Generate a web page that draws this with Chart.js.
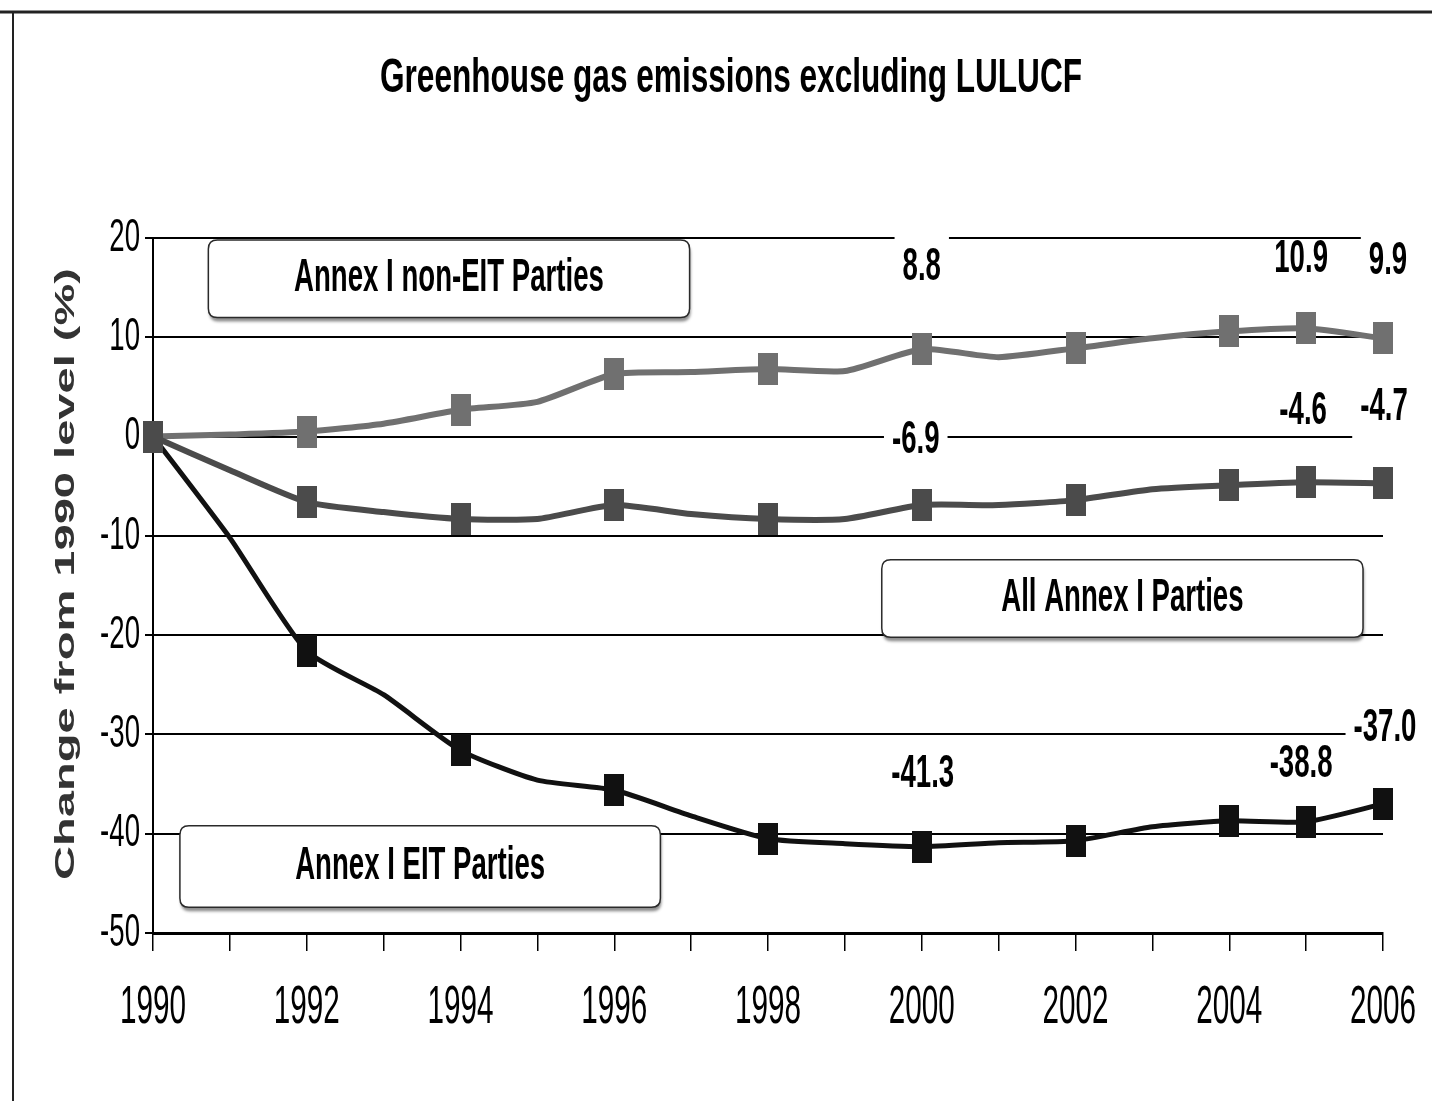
<!DOCTYPE html>
<html>
<head>
<meta charset="utf-8">
<title>Greenhouse gas emissions excluding LULUCF</title>
<script src="https://cdn.jsdelivr.net/npm/chart.js@4.4.1/dist/chart.umd.min.js"></script>
<style>
  html, body { margin: 0; padding: 0; background: #fff; }
  #wrap { position: relative; width: 1432px; height: 1101px; }
</style>
</head>
<body>
<div id="wrap"><canvas id="ghg-chart" width="1432" height="1101"></canvas></div>
<script>
// Data (change from 1990 level, %)
const years = ['1990', '1991', '1992', '1993', '1994', '1995', '1996', '1997', '1998',
               '1999', '2000', '2001', '2002', '2003', '2004', '2005', '2006'];
const markerYears = ['1990', '1992', '1994', '1996', '1998', '2000', '2002', '2004', '2005', '2006'];
const labelYears = ['2000', '2005', '2006'];
const yTicks = [20, 10, 0, -10, -20, -30, -40, -50];

const nonEitValues = [0, 0.2, 0.5, 1.3, 2.7, 3.5, 6.3, 6.5, 6.8, 6.6, 8.8, 8.0, 8.9, 9.9, 10.6, 10.9, 9.9];
const allAnnexValues = [0, -3.4, -6.6, -7.6, -8.3, -8.3, -6.9, -7.8, -8.3, -8.3, -6.9, -6.9, -6.4, -5.3, -4.9, -4.6, -4.7];
const eitValues = [0, -10.2, -21.6, -26.0, -31.6, -34.6, -35.6, -38.2, -40.5, -41.0, -41.3, -40.9, -40.7, -39.3, -38.7, -38.8, -37.0];

const seriesNames = ['All Annex I Parties', 'Annex I non-EIT Parties', 'Annex I EIT Parties'];

const COLORS = {
    nonEit: '#707070',
    allAnnex: '#4b4b4b',
    eit: '#111111',
};

const FONT = '"Liberation Sans", Arial, sans-serif';

// ------------------------------------------------------------
// helpers
// ------------------------------------------------------------

function makeMarker(color) {
    const c = document.createElement('canvas');
    c.width = 20;
    c.height = 32;
    const g = c.getContext('2d');
    g.fillStyle = color;
    g.fillRect(0, 0, 20, 32);
    return c;
}

// text squeezed horizontally (the source uses a narrow, stretched face)
function drawText(ctx, text, x, y, size, weight, sx, align, color) {
    ctx.save();
    ctx.font = `${weight} ${size}px ${FONT}`;
    ctx.fillStyle = color || '#000';
    ctx.textAlign = align || 'center';
    ctx.textBaseline = 'middle';
    ctx.translate(x, y);
    ctx.scale(sx, 1);
    ctx.fillText(text, 0, 0);
    ctx.restore();
}

function textWidth(ctx, text, size, weight, sx) {
    ctx.save();
    ctx.font = `${weight} ${size}px ${FONT}`;
    const w = ctx.measureText(text).width * sx;
    ctx.restore();
    return w;
}

function roundRect(ctx, x, y, w, h, r) {
    ctx.beginPath();
    ctx.moveTo(x + r, y);
    ctx.lineTo(x + w - r, y);
    ctx.quadraticCurveTo(x + w, y, x + w, y + r);
    ctx.lineTo(x + w, y + h - r);
    ctx.quadraticCurveTo(x + w, y + h, x + w - r, y + h);
    ctx.lineTo(x + r, y + h);
    ctx.quadraticCurveTo(x, y + h, x, y + h - r);
    ctx.lineTo(x, y + r);
    ctx.quadraticCurveTo(x, y, x + r, y);
    ctx.closePath();
}

// ------------------------------------------------------------
// annotation layout (in scale units: x = year index, y = %)
// ------------------------------------------------------------

const seriesBoxes = [
    { text: seriesNames[1], x0: 0.72, x1: 6.98, y0: 19.8, y1: 12.0 },
    { text: seriesNames[0], x0: 9.48, x1: 15.74, y0: -12.4, y1: -20.2 },
    { text: seriesNames[2], x0: 0.35, x1: 6.6, y0: -39.2, y1: -47.4 },
];

// value label offsets from their point, in px
const labelStyles = {
    nonEit: [{ dx: 0, dy: -82, bg: true }, { dx: -5, dy: -69, bg: false }, { dx: 5, dy: -77, bg: true }],
    allAnnex: [{ dx: -6, dy: -65, bg: true }, { dx: -3, dy: -71, bg: false }, { dx: 1, dy: -76, bg: true }],
    eit: [{ dx: 1, dy: -72, bg: true }, { dx: -5, dy: -57, bg: false }, { dx: 2, dy: -76, bg: true }],
};

const decorPlugin = {
    id: 'decor',
    beforeDatasetsDraw(chart) {
        const { ctx, scales: { x, y } } = chart;

        // series name boxes
        seriesBoxes.forEach(b => {
            const left = x.getPixelForValue(b.x0);
            const right = x.getPixelForValue(b.x1);
            const top = y.getPixelForValue(b.y0);
            const bottom = y.getPixelForValue(b.y1);
            ctx.save();
            ctx.shadowColor = 'rgba(0,0,0,0.45)';
            ctx.shadowBlur = 3;
            ctx.shadowOffsetX = 1;
            ctx.shadowOffsetY = 4;
            roundRect(ctx, left, top, right - left, bottom - top, 9);
            ctx.fillStyle = '#fff';
            ctx.fill();
            ctx.restore();
            ctx.save();
            roundRect(ctx, left, top, right - left, bottom - top, 9);
            ctx.strokeStyle = '#2a2a2a';
            ctx.lineWidth = 1.5;
            ctx.stroke();
            ctx.restore();
            drawText(ctx, b.text, (left + right) / 2, (top + bottom) / 2, 46, 'bold', 0.6, 'center', '#000');
        });

        // value labels
        const groups = [
            { values: nonEitValues, styles: labelStyles.nonEit },
            { values: allAnnexValues, styles: labelStyles.allAnnex },
            { values: eitValues, styles: labelStyles.eit },
        ];
        groups.forEach(g => {
            labelYears.forEach((yr, k) => {
                const idx = years.indexOf(yr);
                const v = g.values[idx];
                const st = g.styles[k];
                const text = v.toFixed(1);
                const cx = x.getPixelForValue(idx) + st.dx;
                const cy = y.getPixelForValue(v) + st.dy;
                const w = textWidth(ctx, text, 46, 'bold', 0.6);
                if (st.bg) {
                    ctx.save();
                    ctx.fillStyle = '#fff';
                    ctx.fillRect(cx - w / 2 - 8, cy - 32, w + 16, 64);
                    ctx.restore();
                }
                drawText(ctx, text, cx, cy, 46, 'bold', 0.6, 'center', '#000');
            });
        });
    },
    afterDraw(chart) {
        const { ctx, scales: { x, y } } = chart;

        // outer frame (top and left edges)
        ctx.save();
        ctx.strokeStyle = '#222';
        ctx.lineWidth = 3;
        ctx.beginPath();
        ctx.moveTo(0, 12);
        ctx.lineTo(1432, 12);
        ctx.stroke();
        ctx.lineWidth = 2;
        ctx.beginPath();
        ctx.moveTo(13, 12);
        ctx.lineTo(13, 1101);
        ctx.stroke();
        ctx.restore();

        // title
        const title = 'Greenhouse gas emissions excluding LULUCF';
        const tw = textWidth(ctx, title, 48, 'bold', 1);
        drawText(ctx, title, 731, 79, 48, 'bold', 702 / tw, 'center', '#000');

        // y tick labels
        y.ticks.forEach(t => {
            drawText(ctx, String(t.value), x.left - 13, y.getPixelForValue(t.value), 46, 'normal', 0.6, 'right', '#000');
        });

        // x tick labels (every other year)
        x.ticks.forEach((t, i) => {
            const label = years[t.value];
            if (Number(label) % 2 !== 0) return;
            drawText(ctx, label, x.getPixelForTick(i), 1008, 54, 'normal', 0.55, 'center', '#000');
        });

        // y axis title
        const yTitle = 'Change from 1990 level (%)';
        const yw = textWidth(ctx, yTitle, 28, 'bold', 1);
        ctx.save();
        ctx.translate(66, 574);
        ctx.rotate(-Math.PI / 2);
        drawText(ctx, yTitle, 0, 0, 28, 'bold', 612 / yw, 'center', '#333');
        ctx.restore();
    },
};

// ------------------------------------------------------------
// chart
// ------------------------------------------------------------

function markerRadius(c) {
    return markerYears.includes(years[c.dataIndex]) ? 10 : 0;
}

function lineDataset(label, data, color, width) {
    return {
        label,
        data,
        borderColor: color,
        backgroundColor: color,
        borderWidth: width,
        tension: 0.2,
        pointStyle: makeMarker(color),
        pointRadius: markerRadius,
        pointHoverRadius: markerRadius,
        clip: false,
        fill: false,
    };
}

new Chart(document.getElementById('ghg-chart'), {
    type: 'line',
    data: {
        labels: years,
        datasets: [
            lineDataset(seriesNames[0], allAnnexValues, COLORS.allAnnex, 6),
            lineDataset(seriesNames[1], nonEitValues, COLORS.nonEit, 6),
            lineDataset(seriesNames[2], eitValues, COLORS.eit, 5),
        ],
    },
    options: {
        responsive: false,
        animation: false,
        devicePixelRatio: 1,
        layout: { padding: { left: 145, right: 49, top: 238, bottom: 150 } },
        plugins: {
            legend: { display: false },
            tooltip: { enabled: false },
            title: { display: false },
        },
        scales: {
            x: {
                type: 'category',
                offset: false,
                grid: {
                    drawOnChartArea: false,
                    drawTicks: true,
                    tickLength: 18,
                    color: '#000',
                    lineWidth: 1.5,
                },
                border: { display: true, color: '#000', width: 3 },
                ticks: { display: false, autoSkip: false },
            },
            y: {
                min: -50,
                max: 20,
                afterBuildTicks: axis => { axis.ticks = yTicks.map(v => ({ value: v })); },
                grid: {
                    color: '#000',
                    lineWidth: 2,
                    drawTicks: true,
                    tickLength: 8,
                },
                border: { display: true, color: '#000', width: 2 },
                ticks: { display: false },
            },
        },
    },
    plugins: [decorPlugin],
});
</script>
</body>
</html>
